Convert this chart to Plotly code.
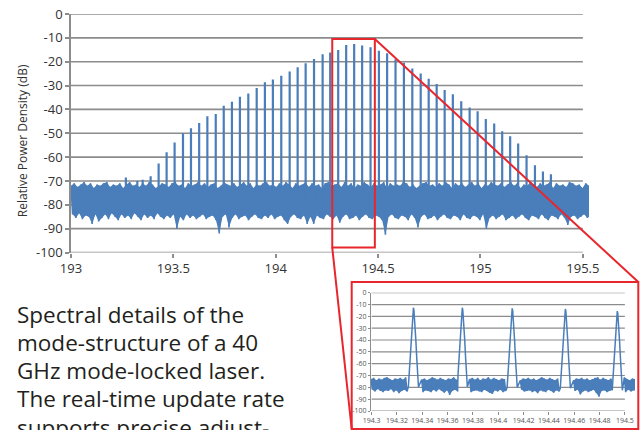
import numpy as np
import plotly.graph_objects as go

W, H = 642, 430
BLUE = "#4a7ebb"
RED = "#e8262d"
GRID = "#8c8c8c"
FONT = "Open Sans"

# ---------------- main spectrum data ----------------
main_peak_thz = [193.268, 193.324, 193.350, 193.389, 193.428, 193.467, 193.506, 193.547, 193.586,
                 193.626, 193.666, 193.707, 193.746, 193.786, 193.825, 193.866, 193.907, 193.947,
                 193.986, 194.027, 194.068, 194.107, 194.146, 194.187, 194.229, 194.266, 194.305,
                 194.344, 194.383, 194.422, 194.463, 194.504, 194.544, 194.585, 194.626, 194.667,
                 194.708, 194.747, 194.786, 194.825, 194.865, 194.906, 194.947, 194.986, 195.026,
                 195.067, 195.106, 195.145, 195.184, 195.225, 195.266, 195.305, 195.344]
main_peak_db = [-68.6, -70, -69.5, -68, -62.7, -58, -53.9, -50, -47.9, -45.7, -42.9, -41.9, -38.5,
                -36.8, -34.7, -33.3, -31, -28.6, -27.5, -25.9, -24.1, -22.3, -20.6, -18.9, -16.9,
                -16.1, -15.1, -13, -12.6, -13.2, -13.9, -15.4, -16.5, -19, -20.4, -22.8, -24.9,
                -27.2, -29.4, -31.9, -33.7, -36.6, -39.2, -40.8, -44, -45.9, -49.2, -51.3, -54.3,
                -59.2, -63.4, -66, -67.2]

# noise floor envelope (upper / lower), read across 193.0 - 195.53 THz
main_noise_upper = [
    -72, -71, -72.5, -71.5, -70.5, -72, -71, -73, -71.5, -72, -71, -70.5, -72.5, -71.5, -72, -71, -73, -71.5, -70.5, -72,
    -71.5, -72.5, -71, -72, -70.5, -71.5, -73, -72, -71, -71.5, -72.5, -71, -70.5, -72, -71.5, -73, -71, -72, -71.5, -70.5,
    -72, -71, -72.5, -71.5, -71, -73, -72, -70.5, -71.5, -72, -71, -72.5, -71.5, -70.5, -72, -71, -73, -71.5, -72, -71,
    -70.5, -72, -71.5, -72.5, -71, -72, -70.5, -71.5, -73, -71, -72, -71.5, -70.5, -72.5, -71, -72, -71.5, -73, -71, -70.5,
    -72, -71.5, -71, -72.5, -70.5, -72, -71, -73, -71.5, -72, -70.5, -71.5, -72.5, -71, -72, -71.5, -70.5, -73, -71, -72,
    -71.5, -72, -70.5, -71, -72.5, -71.5, -73, -72, -71, -70.5, -72, -71.5, -72.5, -71, -72, -70.5, -71.5, -73, -71, -72,
    -71, -72.5, -71.5, -70.5, -72, -71, -73, -71.5, -72, -70.5, -71.5, -72, -71, -72.5, -71.5, -70.5, -72, -71, -73, -71.5,
    -72, -70.5, -71.5, -72.5, -71, -72, -71.5, -70.5, -73, -71, -72, -71.5, -72.5, -70.5, -71, -72, -71.5, -73, -71, -72]
main_noise_lower = [
    -84, -85.5, -83.5, -86, -84.5, -85, -88, -84, -87, -85.5, -84, -86, -83.5, -85, -86.5, -84, -85.5, -84.5, -86, -83.5,
    -85, -86.5, -84, -85.5, -84.5, -86, -83.5, -85, -86, -84.5, -85.5, -84, -90, -85, -86.5, -84, -85.5, -84.5, -86, -85,
    -84, -86, -85, -84.5, -86.5, -92, -85, -84, -89.5, -85.5, -84, -86, -85, -84.5, -86.5, -85, -84, -85.5, -86, -84.5,
    -85.5, -84, -86, -85, -84.5, -86.5, -88, -85, -84, -85.5, -86, -84.5, -88, -85, -88, -84.5, -85.5, -86, -84, -85,
    -86, -84.5, -87.5, -85, -84, -86, -85.5, -84.5, -86.5, -85, -84, -85.5, -86, -84.5, -85, -86.5, -92.5, -85, -84, -85.5,
    -86, -84.5, -85, -86.5, -84, -85.5, -89.5, -85, -84, -86, -85.5, -84.5, -86.5, -85, -84, -85.5, -86, -84.5, -85, -86.5,
    -84, -85.5, -86, -84.5, -85, -86.5, -84, -90, -85.5, -84.5, -86, -85, -84, -86.5, -85.5, -84.5, -86, -85, -84, -85.5,
    -86.5, -84.5, -85, -86, -84, -85.5, -86.5, -84.5, -85, -86, -84, -85.5, -88.5, -85, -84.5, -86, -85, -84, -85.5, -84.5]
main_noise_span = [193.0, 195.53]

main_x_tickvals = [193, 193.5, 194, 194.5, 195, 195.5]
main_x_ticktext = ["193", "193.5", "194", "194.5", "195", "195.5"]
y_tickvals = [0, -10, -20, -30, -40, -50, -60, -70, -80, -90, -100]
y_ticktext = ["0", "-10", "-20", "-30", "-40", "-50", "-60", "-70", "-80", "-90", "-100"]

# ---------------- inset (zoom) data ----------------
inset_peak_thz = [194.333, 194.3716, 194.411, 194.453, 194.494]
inset_peak_db = [-12.7, -12.7, -13.2, -13.8, -15.5]
# single-mode line shape: offset from centre (THz) vs. drop below peak (dB)
shape_offset = [0.0, 0.0004, 0.0008, 0.0013, 0.0019, 0.0026, 0.0034, 0.0040]
shape_drop = [0, 2, 7, 15, 27, 42, 57, 67]

inset_noise_upper = [
    -73, -72, -74, -72.5, -73.5, -72, -71.5, -73, -74, -72.5,
    -73, -72, -73.5, -71.5, -73, -74, -72.5, -73, -72, -73.5,
    -72.5, -74, -73, -71.5, -72.5, -73.5, -72, -73, -74, -72.5,
    -73, -71.5, -73.5, -72, -73, -74, -72.5, -73, -72, -73.5,
    -72, -74, -72.5, -73, -71.5, -73.5, -72, -73, -74, -72.5,
    -73, -72, -73.5, -72.5, -71.5, -73, -74, -72.5, -73, -72,
    -73.5, -72.5, -74, -73, -71.5, -72.5, -73.5, -72, -73, -74,
    -72.5, -73, -72, -73.5, -71.5, -73, -74, -72.5, -73, -72,
    -73.5, -72.5, -74, -73, -72, -71.5, -73.5, -72, -73, -74,
    -72.5, -73, -72, -73.5, -72.5, -71.5, -73, -74, -72.5, -73]
inset_noise_lower = [
    -82, -83.5, -81.5, -83, -84, -82.5, -83, -81.5, -84, -82.5,
    -85, -83, -82, -83.5, -84.5, -82, -83, -81.5, -83.5, -84,
    -82.5, -83, -84, -82, -83.5, -81.5, -83, -84.5, -82.5, -86.5,
    -83, -82, -83.5, -84, -82.5, -83, -81.5, -84, -83, -82.5,
    -83.5, -84, -82, -83, -84.5, -85.5, -82.5, -83.5, -82, -84,
    -83, -82.5, -84, -81.5, -83, -84.5, -82, -83.5, -83, -82.5,
    -84, -83, -85, -82.5, -83.5, -84, -82, -83, -84.5, -82.5,
    -83.5, -82, -84, -83, -82.5, -84.5, -83, -82, -86, -83.5,
    -82.5, -84, -83, -82, -84.5, -88, -83, -82.5, -84, -83,
    -82, -83.5, -84.5, -82.5, -83, -84, -82, -83.5, -82.5, -83]
inset_noise_span = [194.2995, 194.508]
inset_x_tickvals = [194.3, 194.32, 194.34, 194.36, 194.38, 194.4, 194.42, 194.44, 194.46, 194.48, 194.5]
inset_x_ticktext = ["194.3", "194.32", "194.34", "194.36", "194.38", "194.4", "194.42", "194.44",
                    "194.46", "194.48", "194.5"]

zoom_box_thz = [194.276, 194.484]
zoom_box_db = [-97.9, -10.5]

caption_lines = ["Spectral details of the", "mode-structure of a 40", "GHz mode-locked laser.",
                 "The real-time update rate", "supports precise adjust-"]

# ---------------- layout geometry (pixels) ----------------
MX = [71, 589]      # main x domain px
MY = [14, 252.5]    # main y domain px (top, bottom)
IX = [371, 635]
IY = [292.7, 411]
main_xrange = [193.0, 195.53]
inset_xrange = [194.2995, 194.508]
CAPTION_TOP = 296.5
CAPTION_STEP = 28.3


def dom_x(px):
    return [px[0] / W, px[1] / W]


def dom_y(py):
    return [1 - py[1] / H, 1 - py[0] / H]


def samples(span, upper):
    xs = np.linspace(span[0], span[1], len(upper))
    return xs, xs[1] - xs[0]


def zigzag(span, upper, lower, keep=None):
    xs, step = samples(span, upper)
    X, Y = [], []
    for x, u, l in zip(xs, upper, lower):
        if keep is not None and not keep(x):
            continue
        X += [x, x + step / 2]
        Y += [u, l]
    return X, Y


def band(span, upper, lower, keep=None):
    """closed polygons between the upper and lower envelopes (None separates pieces)"""
    xs, step = samples(span, upper)
    pieces, cur = [], []
    for x, u, l in zip(xs, upper, lower):
        if keep is None or keep(x):
            cur.append((x, u, l))
        elif cur:
            pieces.append(cur)
            cur = []
    if cur:
        pieces.append(cur)
    X, Y = [], []
    for p in pieces:
        X += [q[0] for q in p] + [q[0] + step / 2 for q in reversed(p)] + [None]
        Y += [q[1] for q in p] + [q[2] for q in reversed(p)] + [None]
    return X, Y


fig = go.Figure()

# main noise floor: solid band + jagged trace
bx, by = band(main_noise_span, main_noise_upper, main_noise_lower)
fig.add_trace(go.Scatter(x=bx, y=by, mode="lines", fill="toself", fillcolor=BLUE,
                         line=dict(width=0, color=BLUE), hoverinfo="skip", showlegend=False,
                         xaxis="x", yaxis="y"))
nx, ny = zigzag(main_noise_span, main_noise_upper, main_noise_lower)
fig.add_trace(go.Scatter(x=nx, y=ny, mode="lines", line=dict(color=BLUE, width=1.6),
                         hoverinfo="skip", showlegend=False, xaxis="x", yaxis="y"))
# main comb lines
px_, py_ = [], []
for f, h in zip(main_peak_thz, main_peak_db):
    px_ += [f, f, None]
    py_ += [-80, h, None]
fig.add_trace(go.Scatter(x=px_, y=py_, mode="lines", line=dict(color=BLUE, width=2.2),
                         hoverinfo="skip", showlegend=False, xaxis="x", yaxis="y"))


# inset spectrum
def off_peak(x):
    return min(abs(x - c) for c in inset_peak_thz) > 0.0045


ibx, iby = band(inset_noise_span, inset_noise_upper, inset_noise_lower, keep=off_peak)
fig.add_trace(go.Scatter(x=ibx, y=iby, mode="lines", fill="toself", fillcolor=BLUE,
                         line=dict(width=0, color=BLUE), hoverinfo="skip", showlegend=False,
                         xaxis="x2", yaxis="y2"))
ix, iy = zigzag(inset_noise_span, inset_noise_upper, inset_noise_lower, keep=off_peak)
pts = list(zip(ix, iy))
for c, h in zip(inset_peak_thz, inset_peak_db):
    for o, d in zip(shape_offset, shape_drop):
        pts.append((c - o, h - d))
        if o > 0:
            pts.append((c + o, h - d))
pts.sort(key=lambda p: p[0])
fig.add_trace(go.Scatter(x=[p[0] for p in pts], y=[p[1] for p in pts], mode="lines",
                         line=dict(color=BLUE, width=1.5), hoverinfo="skip",
                         showlegend=False, xaxis="x2", yaxis="y2"))

shapes = []
for v in y_tickvals:
    shapes.append(dict(type="line", xref="x", yref="y", x0=193, x1=195.5, y0=v, y1=v,
                       line=dict(color=GRID, width=1.6), layer="below"))
    shapes.append(dict(type="line", xref="x2", yref="y2", x0=194.3, x1=194.5, y0=v, y1=v,
                       line=dict(color=GRID, width=1.2), layer="below"))

# red zoom box on main chart
shapes.append(dict(type="rect", xref="x", yref="y", x0=zoom_box_thz[0], x1=zoom_box_thz[1],
                   y0=zoom_box_db[0], y1=zoom_box_db[1], line=dict(color=RED, width=2)))


def main_to_paper(f, db):
    xd, yd = dom_x(MX), dom_y(MY)
    px = xd[0] + (f - main_xrange[0]) / (main_xrange[1] - main_xrange[0]) * (xd[1] - xd[0])
    py = yd[0] + (db + 100) / 100 * (yd[1] - yd[0])
    return px, py


inset_box = [351.7 / W, 638.3 / W, 1 - 429 / H, 1 - 282 / H]
shapes.append(dict(type="rect", xref="paper", yref="paper", x0=inset_box[0], x1=inset_box[1],
                   y0=inset_box[2], y1=inset_box[3], line=dict(color=RED, width=2)))
a = main_to_paper(zoom_box_thz[1], zoom_box_db[1])
shapes.append(dict(type="line", xref="paper", yref="paper", x0=a[0], y0=a[1],
                   x1=inset_box[1], y1=inset_box[3], line=dict(color=RED, width=2)))
b = main_to_paper(zoom_box_thz[0], zoom_box_db[0])
shapes.append(dict(type="line", xref="paper", yref="paper", x0=b[0], y0=b[1],
                   x1=inset_box[0], y1=inset_box[2], line=dict(color=RED, width=2)))

annotations = [
    dict(text="Relative Power Density (dB)", xref="paper", yref="paper",
         x=22.7 / W, y=1 - 140.5 / H, xanchor="center", yanchor="middle",
         textangle=-90, showarrow=False, font=dict(size=12, color="#333333", family=FONT)),
]
for k, line in enumerate(caption_lines):
    annotations.append(dict(text=line, xref="paper", yref="paper", x=15 / W,
                            y=1 - (CAPTION_TOP + k * CAPTION_STEP) / H,
                            xanchor="left", yanchor="top", align="left", showarrow=False,
                            font=dict(size=22.5, color="#231f20", family=FONT)))

fig.update_layout(
    width=W, height=H, margin=dict(l=0, r=0, t=0, b=0, autoexpand=False),
    paper_bgcolor="white", plot_bgcolor="white",
    font=dict(family=FONT, color="#333333"),
    showlegend=False,
    shapes=shapes,
    annotations=annotations,
    xaxis=dict(domain=dom_x(MX), range=main_xrange, showgrid=False, zeroline=False,
               showline=False, ticks="outside", ticklen=4, tickcolor=GRID, tickwidth=1.5,
               tickvals=main_x_tickvals, ticktext=main_x_ticktext, automargin=False,
               tickfont=dict(size=13, color="#333333"), anchor="y"),
    yaxis=dict(domain=dom_y(MY), range=[-100, 0], showgrid=False, zeroline=False,
               showline=True, linecolor=GRID, linewidth=1.6, ticks="outside", ticklen=4,
               tickcolor=GRID, tickwidth=1.5, tickvals=y_tickvals, ticktext=y_ticktext,
               automargin=False, tickfont=dict(size=13, color="#333333"), anchor="x"),
    xaxis2=dict(domain=dom_x(IX), range=inset_xrange, showgrid=False, zeroline=False,
                showline=False, ticks="outside", ticklen=3, tickcolor=GRID, tickwidth=1,
                tickvals=inset_x_tickvals, ticktext=inset_x_ticktext, automargin=False,
                tickfont=dict(size=7, color="#555555"), anchor="y2"),
    yaxis2=dict(domain=dom_y(IY), range=[-100, 0], showgrid=False, zeroline=False,
                showline=True, linecolor=GRID, linewidth=1.2, ticks="outside", ticklen=2,
                tickcolor=GRID, tickwidth=1, tickvals=y_tickvals, ticktext=y_ticktext,
                automargin=False, tickfont=dict(size=7, color="#555555"), anchor="x2"),
)

fig.write_html("out.html")
